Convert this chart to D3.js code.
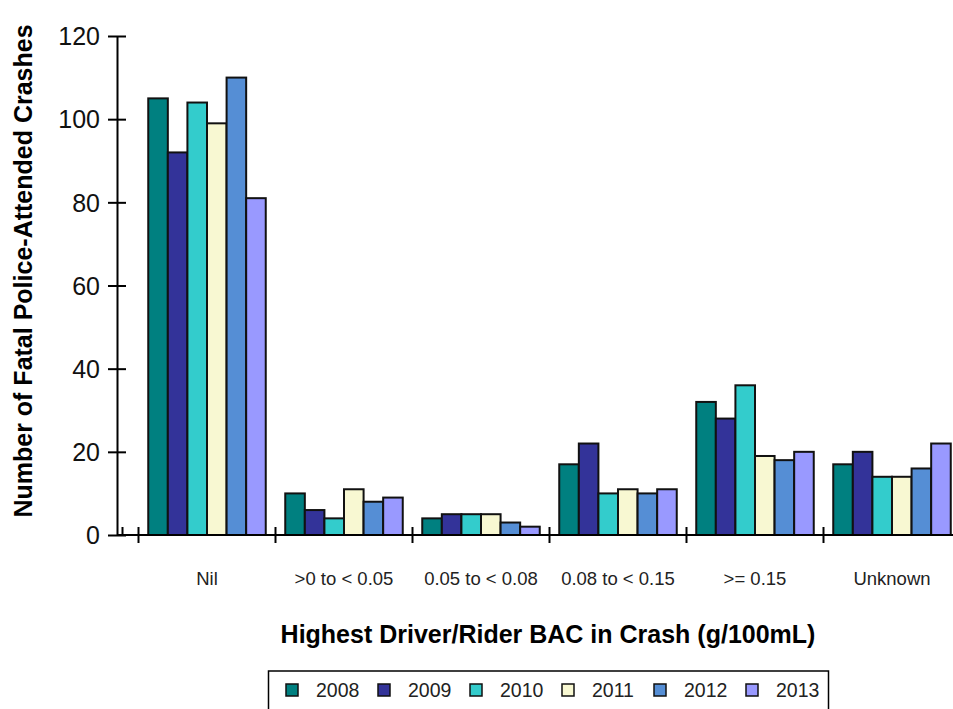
<!DOCTYPE html>
<html><head><meta charset="utf-8">
<script src="https://cdn.jsdelivr.net/npm/d3@7"></script>
<style>body{margin:0;background:#fff}svg{display:block}text{font-family:Arial,"Liberation Sans",sans-serif;fill:#000}</style>
</head><body>
<script>
const categories = ["Nil", ">0 to < 0.05", "0.05 to < 0.08", "0.08 to < 0.15", ">= 0.15", "Unknown"];
const years = ["2008", "2009", "2010", "2011", "2012", "2013"];
const v2008 = [105, 10, 4, 17, 32, 17];
const v2009 = [92, 6, 5, 22, 28, 20];
const v2010 = [104, 4, 5, 10, 36, 14];
const v2011 = [99, 11, 5, 11, 19, 14];
const v2012 = [110, 8, 3, 10, 18, 16];
const v2013 = [81, 9, 2, 11, 20, 22];
const yTicks = [0, 20, 40, 60, 80, 100, 120];
const colors = ["#008080", "#333399", "#33CCCC", "#F8F8D2", "#558ED5", "#9999FF"];

const series = [v2008, v2009, v2010, v2011, v2012, v2013];
const W = 953, H = 709;
const svg = d3.select("body").append("svg").attr("width", W).attr("height", H);

const y = d3.scaleLinear().domain([0, 120]).range([535, 36]);
const x0 = d3.scaleBand().domain(categories).range([138.5, 960.5]).padding(0);
const x1 = d3.scaleBand().domain(years).range([9.75, x0.bandwidth() - 9.75]).padding(0);
const axisX = 117;

// bars
categories.forEach((c, ci) => {
  const g = svg.append("g").attr("transform", `translate(${x0(c)},0)`);
  years.forEach((yr, yi) => {
    const v = series[yi][ci];
    g.append("rect")
      .attr("x", x1(yr)).attr("y", y(v))
      .attr("width", x1.bandwidth()).attr("height", y(0) - y(v))
      .attr("fill", colors[yi]).attr("stroke", "#111").attr("stroke-width", 2);
  });
});

// y axis
const yAxis = d3.axisLeft(y).tickValues(yTicks).tickSizeInner(0).tickSizeOuter(0).tickPadding(17);
const ya = svg.append("g").attr("transform", `translate(${axisX},0)`).call(yAxis);
ya.select(".domain").attr("stroke", "#000").attr("stroke-width", 2);
ya.selectAll(".tick text").style("font-size", "25px").attr("dy", "0.35em").style("fill", "#111");
ya.selectAll(".tick").append("line").attr("x1", -9).attr("x2", 9).attr("stroke", "#000").attr("stroke-width", 2);

// x axis
svg.append("line").attr("x1", axisX).attr("x2", W).attr("y1", y(0)).attr("y2", y(0)).attr("stroke", "#000").attr("stroke-width", 2);
svg.append("line").attr("x1", 122.5).attr("x2", 122.5).attr("y1", y(0) - 8).attr("y2", y(0)).attr("stroke", "#000").attr("stroke-width", 2);
categories.forEach(c => {
  svg.append("line").attr("x1", x0(c)).attr("x2", x0(c)).attr("y1", y(0) - 8).attr("y2", y(0) + 8).attr("stroke", "#000").attr("stroke-width", 2);
  svg.append("text").attr("x", x0(c) + x0.bandwidth() / 2).attr("y", 585)
    .attr("text-anchor", "middle").style("font-size", "18.5px").style("fill", "#222").text(c);
});

// titles
svg.append("text").attr("x", 548).attr("y", 643).attr("text-anchor", "middle")
  .style("font-size", "25px").style("font-weight", "bold").text("Highest Driver/Rider BAC in Crash (g/100mL)");
svg.append("text").attr("transform", "translate(32,271) rotate(-90)").attr("text-anchor", "middle")
  .style("font-size", "25px").style("font-weight", "bold").text("Number of Fatal Police-Attended Crashes");

// legend
svg.append("rect").attr("x", 268.5).attr("y", 671).attr("width", 560).attr("height", 50)
  .attr("fill", "#fff").attr("stroke", "#000").attr("stroke-width", 1.5);
const lx = d3.scaleBand().domain(years).range([286, 286 + 92 * 6]);
years.forEach((yr, i) => {
  svg.append("rect").attr("x", lx(yr)).attr("y", 684).attr("width", 12).attr("height", 12)
    .attr("fill", colors[i]).attr("stroke", "#111").attr("stroke-width", 1.5);
  svg.append("text").attr("x", lx(yr) + 30).attr("y", 697).style("font-size", "19.5px").style("fill", "#222").text(yr);
});
</script>
</body></html>
